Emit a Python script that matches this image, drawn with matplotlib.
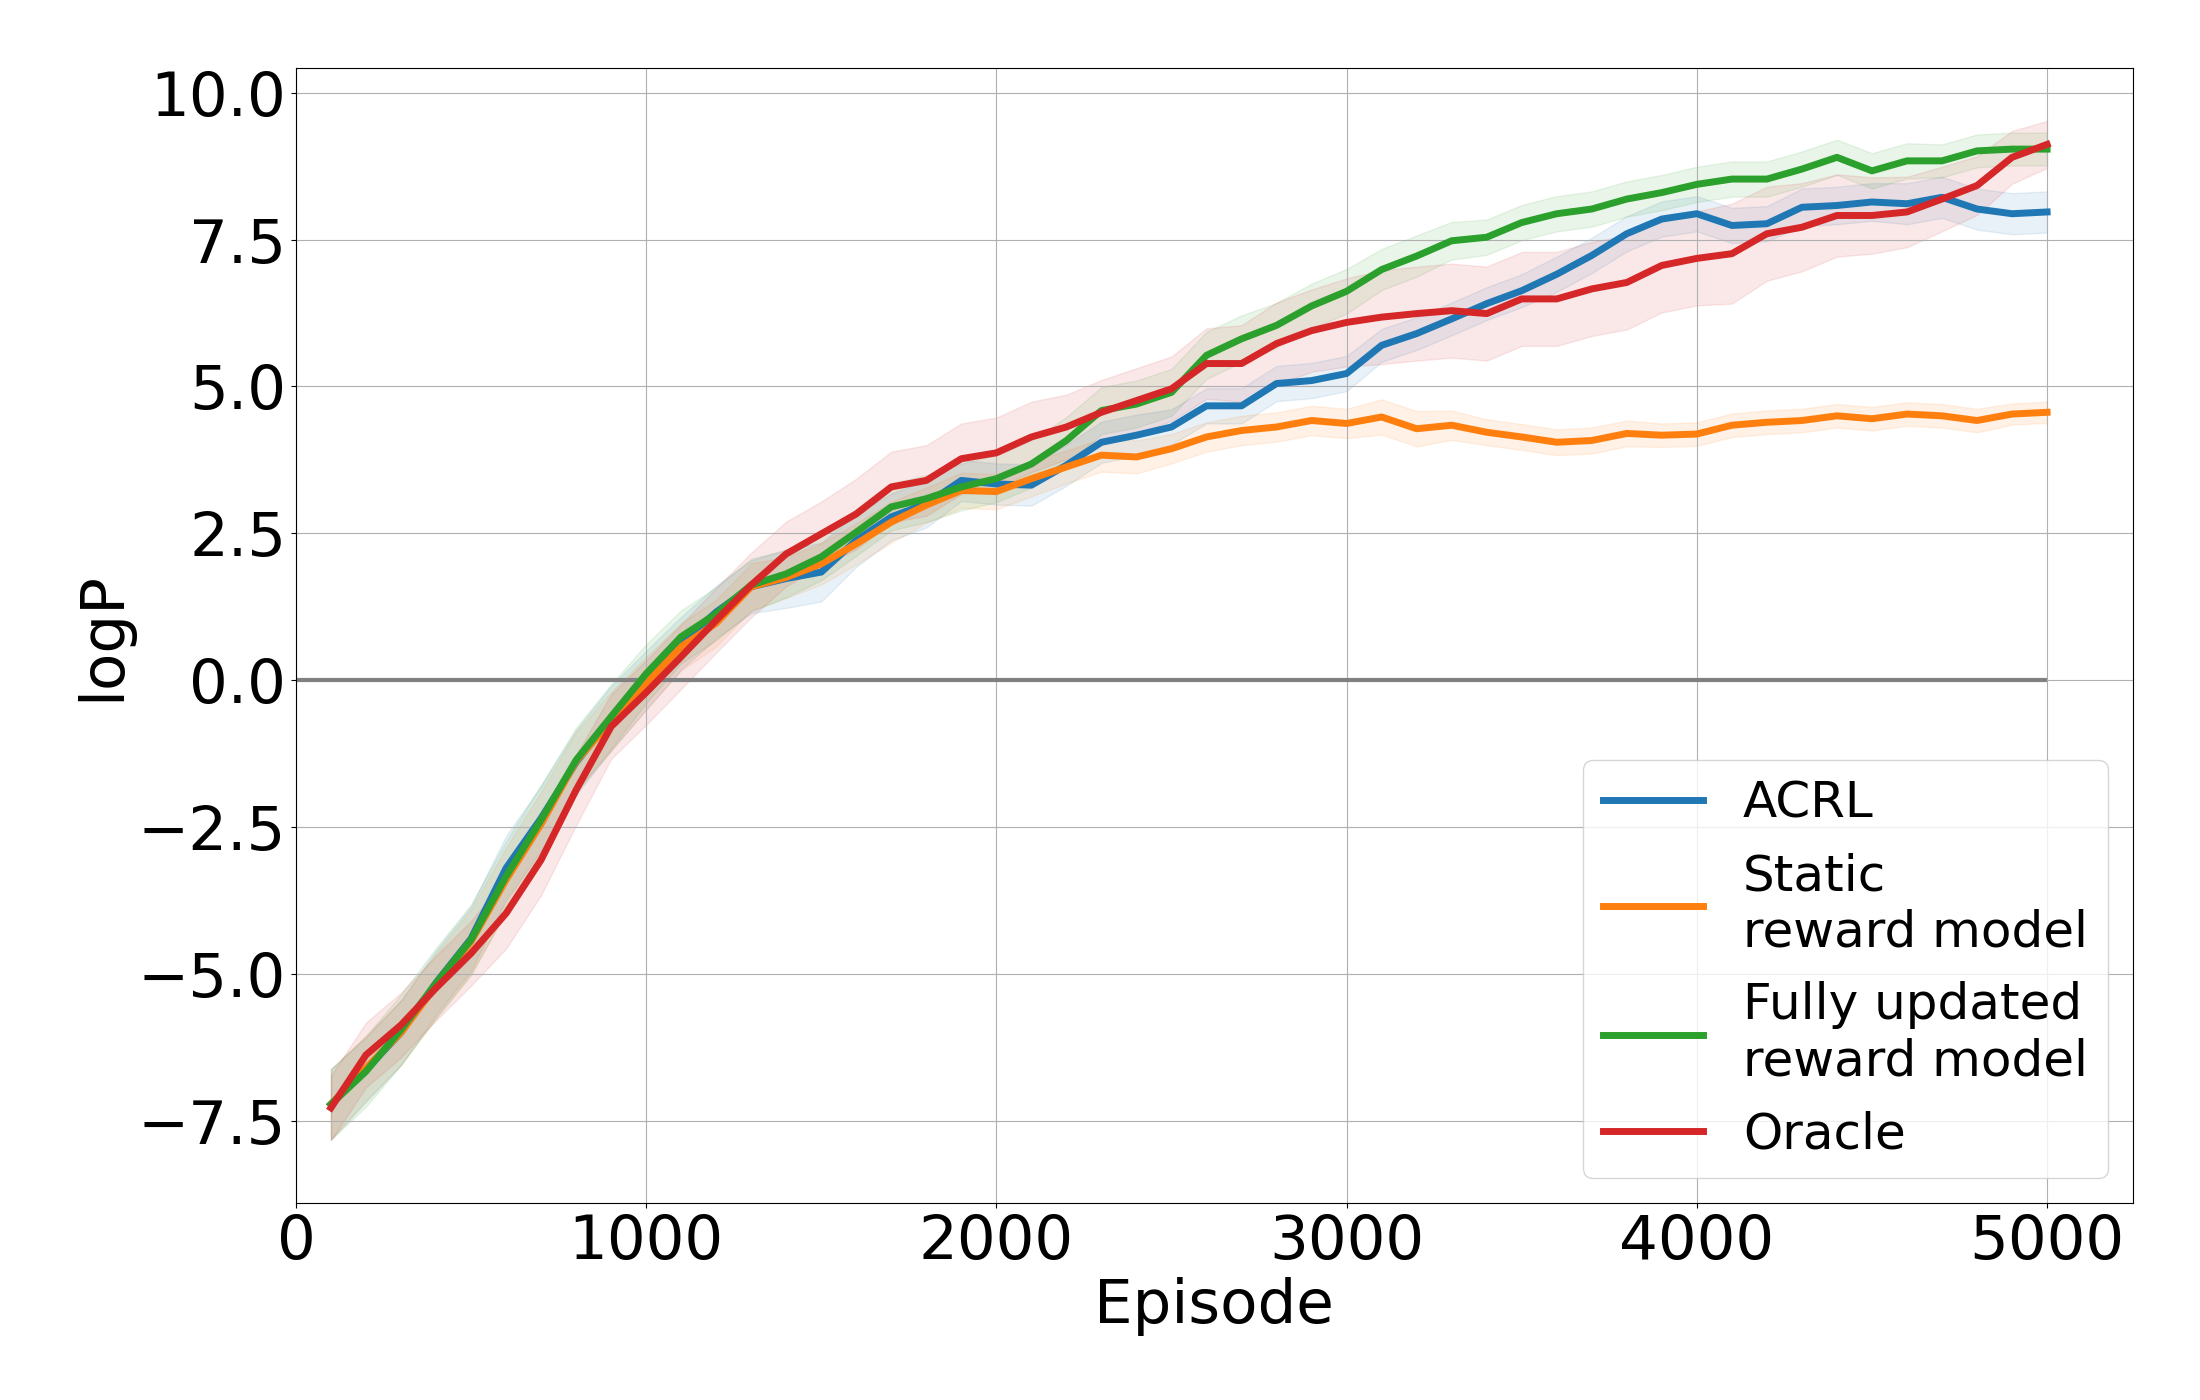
import numpy as np
import matplotlib
matplotlib.use("Agg")
import matplotlib.pyplot as plt

# episodes (every 100)
episodes = np.arange(100, 5001, 100)

# mean logP per method
acrl = [-7.22, -6.63, -6.00, -5.15, -4.40, -3.20, -2.35, -1.40, -0.65, 0.00,
        0.63, 1.16, 1.59, 1.73, 1.84, 2.38, 2.78, 3.00, 3.40, 3.34,
        3.32, 3.66, 4.05, 4.17, 4.31, 4.67, 4.67, 5.05, 5.10, 5.22,
        5.70, 5.90, 6.15, 6.41, 6.63, 6.91, 7.23, 7.60, 7.85, 7.94,
        7.74, 7.77, 8.05, 8.08, 8.14, 8.11, 8.22, 8.02, 7.94, 7.97]
static = [-7.22, -6.60, -6.00, -5.20, -4.45, -3.40, -2.45, -1.38, -0.70, -0.05,
          0.57, 0.97, 1.59, 1.75, 1.98, 2.32, 2.69, 2.98, 3.23, 3.21,
          3.43, 3.63, 3.83, 3.80, 3.94, 4.14, 4.25, 4.31, 4.42, 4.37,
          4.48, 4.28, 4.34, 4.22, 4.14, 4.05, 4.08, 4.20, 4.17, 4.19,
          4.34, 4.39, 4.42, 4.50, 4.45, 4.53, 4.50, 4.42, 4.53, 4.56]
fully = [-7.22, -6.66, -5.95, -5.16, -4.42, -3.34, -2.38, -1.36, -0.62, 0.11,
         0.74, 1.13, 1.62, 1.81, 2.10, 2.52, 2.95, 3.09, 3.29, 3.43,
         3.68, 4.08, 4.59, 4.70, 4.90, 5.53, 5.81, 6.04, 6.37, 6.62,
         6.99, 7.22, 7.48, 7.54, 7.79, 7.94, 8.02, 8.19, 8.30, 8.44,
         8.53, 8.53, 8.70, 8.90, 8.67, 8.84, 8.84, 9.01, 9.04, 9.04]
oracle = [-7.28, -6.38, -5.87, -5.24, -4.65, -3.97, -3.06, -1.87, -0.79, -0.21,
          0.40, 1.02, 1.62, 2.15, 2.49, 2.83, 3.29, 3.40, 3.77, 3.87,
          4.14, 4.31, 4.56, 4.76, 4.96, 5.39, 5.39, 5.73, 5.95, 6.09,
          6.18, 6.24, 6.29, 6.24, 6.49, 6.49, 6.66, 6.77, 7.06, 7.18,
          7.26, 7.60, 7.71, 7.91, 7.91, 7.97, 8.19, 8.42, 8.90, 9.12]

# half-width of the shaded bands
acrl_sd = [0.60, 0.55, 0.55, 0.55, 0.55, 0.55, 0.55, 0.55, 0.55, 0.50,
           0.45, 0.45, 0.45, 0.50, 0.50, 0.45, 0.40, 0.40, 0.35, 0.35,
           0.35, 0.35, 0.35, 0.35, 0.30, 0.30, 0.30, 0.30, 0.30, 0.30,
           0.28, 0.28, 0.28, 0.28, 0.28, 0.30, 0.30, 0.30, 0.30, 0.30,
           0.30, 0.30, 0.32, 0.32, 0.32, 0.35, 0.35, 0.35, 0.35, 0.35]
static_sd = [0.60, 0.55, 0.55, 0.55, 0.55, 0.55, 0.55, 0.50, 0.50, 0.45,
             0.40, 0.40, 0.40, 0.35, 0.35, 0.35, 0.35, 0.30, 0.30, 0.30,
             0.30, 0.28, 0.28, 0.28, 0.25, 0.25, 0.25, 0.25, 0.25, 0.25,
             0.30, 0.30, 0.25, 0.22, 0.22, 0.22, 0.22, 0.22, 0.20, 0.20,
             0.20, 0.20, 0.20, 0.20, 0.20, 0.20, 0.20, 0.20, 0.18, 0.18]
fully_sd = [0.60, 0.60, 0.60, 0.60, 0.60, 0.60, 0.60, 0.55, 0.55, 0.50,
            0.45, 0.45, 0.45, 0.40, 0.40, 0.40, 0.40, 0.40, 0.40, 0.40,
            0.40, 0.40, 0.40, 0.40, 0.40, 0.40, 0.40, 0.38, 0.38, 0.38,
            0.35, 0.35, 0.32, 0.30, 0.30, 0.30, 0.30, 0.30, 0.30, 0.30,
            0.30, 0.30, 0.30, 0.30, 0.30, 0.30, 0.28, 0.28, 0.28, 0.28]
oracle_sd = [0.55, 0.55, 0.55, 0.55, 0.55, 0.60, 0.60, 0.60, 0.55, 0.55,
             0.55, 0.55, 0.55, 0.55, 0.55, 0.60, 0.60, 0.60, 0.60, 0.60,
             0.60, 0.55, 0.55, 0.55, 0.55, 0.60, 0.65, 0.70, 0.70, 0.75,
             0.80, 0.80, 0.80, 0.80, 0.80, 0.80, 0.80, 0.80, 0.80, 0.80,
             0.85, 0.80, 0.75, 0.70, 0.65, 0.60, 0.55, 0.50, 0.45, 0.40]

labels = ['ACRL', 'Static\nreward model', 'Fully updated\nreward model', 'Oracle']
colors = ['#1f77b4', '#ff7f0e', '#2ca02c', '#d62728']
means = [acrl, static, fully, oracle]
sds = [acrl_sd, static_sd, fully_sd, oracle_sd]

fig, ax = plt.subplots(figsize=(22, 14), dpi=100)
fig.subplots_adjust(left=0.1345, right=0.9695, bottom=0.1407, top=0.9514)

ax.hlines(0, 0, 5000, colors='gray', linewidth=3)

for m, s, lab, c in zip(means, sds, labels, colors):
    m = np.array(m)
    s = np.array(s)
    ax.plot(episodes, m, color=c, linewidth=5, label=lab)
    ax.fill_between(episodes, m - s, m + s, color=c, alpha=0.1)

ax.set_xlim(0, 5245)
ax.set_ylim(-8.9, 10.42)
ax.set_xticks([0, 1000, 2000, 3000, 4000, 5000])
ax.set_yticks([-7.5, -5.0, -2.5, 0.0, 2.5, 5.0, 7.5, 10.0])
ax.grid(True)
ax.tick_params(labelsize=44)
ax.set_xlabel('Episode', fontsize=44)
ax.set_ylabel('logP', fontsize=44)
ax.legend(loc='lower right', fontsize=36)

fig.savefig('out.png', dpi=100)
